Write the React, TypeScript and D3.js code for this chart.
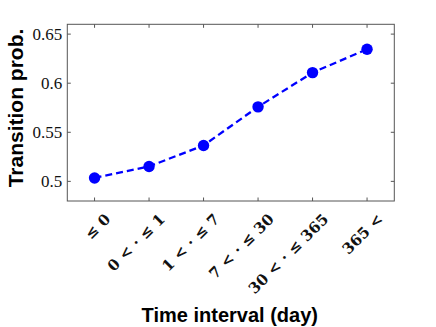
import React from "react";
import * as d3 from "d3";

const categories = ["≤ 0", "0 < · ≤ 1", "1 < · ≤ 7", "7 < · ≤ 30", "30 < · ≤ 365", "365 <"];
const values = [0.5035, 0.5152, 0.5366, 0.5759, 0.6108, 0.6346];
const yTicks = [0.5, 0.55, 0.6, 0.65];
const yTickLabels = ["0.5", "0.55", "0.6", "0.65"];

export default function App() {
  const W = 436, H = 327;
  const left = 67.3, right = 394.3, top = 24.3, bottom = 201;
  const x = d3.scaleLinear().domain([0.5, categories.length + 0.5]).range([left, right]);
  const y = d3.scaleLinear().domain([0.48, 0.66]).range([bottom, top]);
  const line = d3.line<number>().x((_, i) => x(i + 1)).y((d) => y(d));
  const frame = "#555";
  return (
    <svg width={W} height={H} style={{ position: "absolute", left: 0, top: 0 }}>
      <rect x={0} y={0} width={W} height={H} fill="white" />
      <rect x={left} y={top} width={right - left} height={bottom - top} fill="none" stroke={frame} strokeWidth={1} />
      {categories.map((c, i) => (
        <g key={c}>
          <line x1={x(i + 1)} x2={x(i + 1)} y1={bottom} y2={bottom - 3.5} stroke={frame} />
          <line x1={x(i + 1)} x2={x(i + 1)} y1={top} y2={top + 3.5} stroke={frame} />
          <text
            transform={`translate(${x(i + 1) + 9},${bottom + 11}) rotate(-45)`}
            textAnchor="end"
            dominantBaseline="hanging"
            fontFamily="'DejaVu Serif', serif"
            fontWeight="bold"
            fontSize={15}
            letterSpacing={0.2}
            fill="#111"
          >
            {c}
          </text>
        </g>
      ))}
      {yTicks.map((t, i) => (
        <g key={t}>
          <line x1={left} x2={left + 3.5} y1={y(t)} y2={y(t)} stroke={frame} />
          <line x1={right} x2={right - 3.5} y1={y(t)} y2={y(t)} stroke={frame} />
          <text
            x={left - 5}
            y={y(t)}
            textAnchor="end"
            dominantBaseline="central"
            fontFamily="'Liberation Serif', serif"
            fontSize={17}
            fill="#111"
          >
            {yTickLabels[i]}
          </text>
        </g>
      ))}
      <path d={line(values) || ""} fill="none" stroke="#0000ff" strokeWidth={2.3} strokeDasharray="7,4" />
      {values.map((v, i) => (
        <circle key={i} cx={x(i + 1)} cy={y(v)} r={5.7} fill="#0000ff" />
      ))}
      <text
        transform={`translate(23,108) rotate(-90)`}
        textAnchor="middle"
        fontFamily="'Liberation Sans', Arial, sans-serif"
        fontWeight="bold"
        fontSize={21}
        fill="#000"
      >
        Transition prob.
      </text>
      <text
        x={(left + right) / 2 - 1}
        y={322}
        textAnchor="middle"
        fontFamily="'Liberation Sans', Arial, sans-serif"
        fontWeight="bold"
        fontSize={20}
        fill="#000"
      >
        Time interval (day)
      </text>
    </svg>
  );
}
